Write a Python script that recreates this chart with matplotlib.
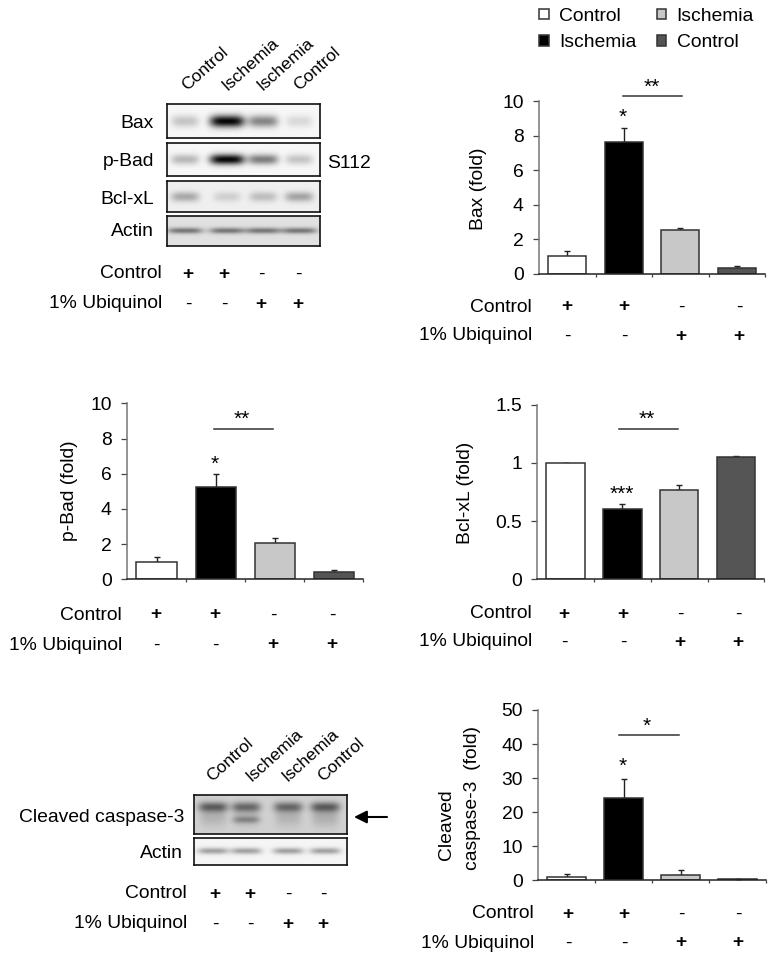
import numpy as np
import matplotlib
matplotlib.use('Agg')
import matplotlib.pyplot as plt
from matplotlib.patches import Patch, FancyArrowPatch

plt.rcParams['font.family'] = ['Liberation Sans', 'DejaVu Sans']
plt.rcParams['font.size'] = 13.9

W, H = 777, 960

# bar chart data
groups = ['Control', 'Ischemia', 'Ischemia', 'Control']
colors = ['white', 'black', '#c8c8c8', '#555555']
row_control = ['+', '+', '-', '-']
row_ubiquinol = ['-', '-', '+', '+']

bax_vals = [1.0, 7.65, 2.55, 0.33]
bax_errs = [0.33, 0.8, 0.12, 0.1]
bax_ticks = [0, 2, 4, 6, 8, 10]
bax_ticklabels = ['0', '2', '4', '6', '8', '10']

pbad_vals = [1.0, 5.25, 2.05, 0.42]
pbad_errs = [0.25, 0.72, 0.27, 0.1]
pbad_ticks = [0, 2, 4, 6, 8, 10]
pbad_ticklabels = ['0', '2', '4', '6', '8', '10']

bcl_vals = [1.0, 0.605, 0.77, 1.05]
bcl_errs = [0.003, 0.04, 0.04, 0.012]
bcl_ticks = [0, 0.5, 1, 1.5]
bcl_ticklabels = ['0', '0.5', '1', '1.5']

casp_vals = [1.0, 24.3, 1.5, 0.4]
casp_errs = [0.9, 5.4, 1.5, 0.05]
casp_ticks = [0, 10, 20, 30, 40, 50]
casp_ticklabels = ['0', '10', '20', '30', '40', '50']

# band darkness per lane on the blots
blot_bax = [0.2, 0.95, 0.45, 0.12]
blot_pbad = [0.25, 0.95, 0.48, 0.2]
blot_bcl = [0.28, 0.13, 0.2, 0.3]
blot_actin = [0.42, 0.42, 0.42, 0.42]
blot_casp_upper = [0.42, 0.38, 0.38, 0.42]
blot_casp_cleaved = [0.0, 0.22, 0.0, 0.0]
blot_casp_smear = [0.12, 0.1, 0.12, 0.14]
blot_actin2 = [0.33, 0.33, 0.33, 0.33]

fig = plt.figure(figsize=(W / 100, H / 100), dpi=100)


def add_axes_px(x0, y0, x1, y1):
    # y0 is the top edge in picture pixels
    return fig.add_axes([x0 / W, 1 - y1 / H, (x1 - x0) / W, (y1 - y0) / H])


def txt(x, y, s, ha='center', va='center', **kw):
    return fig.text(x / W, 1 - y / H, s, ha=ha, va=va, **kw)


def sign_rows(right, y1, y2, xs):
    # va center sits a little high for this font
    y1 += 2
    y2 += 2
    txt(right, y1, 'Control', ha='right')
    txt(right, y2, '1% Ubiquinol', ha='right')
    for x, a, b in zip(xs, row_control, row_ubiquinol):
        txt(x, y1, a, fontweight='bold' if a == '+' else 'normal')
        txt(x, y2, b, fontweight='bold' if b == '+' else 'normal')


def bar_chart(rect, vals, errs, ticks, ticklabels):
    ax = add_axes_px(*rect)
    x = np.arange(4)
    ax.bar(x, vals, width=0.68, color=colors, edgecolor='#333333', linewidth=1.1, zorder=2)
    ax.errorbar(x, vals, yerr=[[0] * 4, errs], fmt='none', ecolor='#222222',
                elinewidth=1.0, capsize=2.5, capthick=1.0, zorder=1)
    ax.set_xlim(-0.5, 3.5)
    ax.set_ylim(ticks[0], ticks[-1])
    ax.set_yticks(ticks)
    ax.set_yticklabels(ticklabels)
    ax.set_xticks([0.5, 1.5, 2.5, 3.5])
    ax.set_xticklabels([])
    ax.tick_params(axis='y', length=4, width=0.9, color='#444444', pad=7)
    ax.tick_params(axis='x', length=2.5, width=0.9, color='#444444')
    ax.spines['top'].set_visible(False)
    ax.spines['right'].set_visible(False)
    ax.spines['left'].set_color('#777777')
    ax.spines['left'].set_linewidth(1.1)
    ax.spines['bottom'].set_color('#222222')
    ax.spines['bottom'].set_linewidth(1.1)
    ax.patch.set_alpha(0)
    return ax


def sig_line(x0, x1, y):
    fig.add_artist(plt.Line2D([x0 / W, x1 / W], [1 - y / H, 1 - y / H], color='#333333', lw=1.1))


def star(x, y, s):
    # Arial's asterisk sits high in the line, so shift the anchor down
    txt(x, y + 5, s, fontsize=15)


def blot(rect, lanes, rows, bg, band_w=16):
    # rows: (darkness per lane, y fraction, band half height in px)
    x0, y0, x1, y1 = rect
    ax = add_axes_px(*rect)
    xx, yy = np.meshgrid(np.arange(x0, x1, 0.5), np.arange(y0, y1, 0.5))
    img = np.full(xx.shape, bg, dtype=float)
    for dark, frac, sig in rows:
        yc = y0 + frac * (y1 - y0)
        for c, d in zip(lanes, dark):
            w = band_w * (0.8 + 0.3 * d)
            img -= d * np.exp(-((xx - c) / w) ** 4) * np.exp(-((yy - yc) / sig) ** 2)
    ax.imshow(np.clip(img, 0, 1), cmap='gray', vmin=0, vmax=1, aspect='auto',
              extent=[x0, x1, y1, y0], interpolation='bilinear')
    ax.set_xticks([])
    ax.set_yticks([])
    for s in ax.spines.values():
        s.set_linewidth(1.2)
        s.set_color('#111111')
    return ax


# top left blot
lanes1 = [185, 227, 263, 299]
blot((167, 104, 320, 138), lanes1, [(blot_bax, 0.5, 6)], 0.97)
blot((167, 143, 320, 176), lanes1, [(blot_pbad, 0.49, 5.2)], 0.97)
blot((167, 181, 320, 212), lanes1, [(blot_bcl, 0.5, 5)], 0.94)
blot((167, 216, 320, 246), lanes1, [(blot_actin, 0.48, 3)], 0.88, band_w=19)
for y, s in zip([124, 161, 200, 232], ['Bax', 'p-Bad', 'Bcl-xL', 'Actin']):
    txt(154, y, s, ha='right')
txt(327, 163, 'S112', ha='left')
for x, s in zip([187, 227, 262, 299], groups):
    txt(x, 91, s, ha='left', va='baseline', rotation=42, rotation_mode='anchor', fontsize=12.6)
sign_rows(162, 272, 302, [188, 224, 261, 298])

# lower left blot
lanes2 = [213, 246, 288, 325]
blot((194, 795, 347, 834), lanes2,
     [(blot_casp_upper, 0.3, 5), (blot_casp_cleaved, 0.63, 3.5), (blot_casp_smear, 0.55, 10)], 0.82)
blot((194, 838, 347, 865), lanes2, [(blot_actin2, 0.47, 3.2)], 0.96, band_w=17)
txt(184, 818, 'Cleaved caspase-3', ha='right')
txt(183, 854, 'Actin', ha='right')
fig.add_artist(FancyArrowPatch((387 / W, 1 - 817 / H), (354 / W, 1 - 817 / H),
                               transform=fig.transFigure, arrowstyle='-|>', mutation_scale=19,
                               color='black', lw=1.5, shrinkA=0, shrinkB=0))
for x, s in zip([212, 251, 287, 323], groups):
    txt(x, 782, s, ha='left', va='baseline', rotation=42, rotation_mode='anchor', fontsize=12.6)
sign_rows(187, 892, 922, [215, 250, 288, 323])

# Bax
ax_bax = bar_chart((539, 101, 765, 273.7), bax_vals, bax_errs, bax_ticks, bax_ticklabels)
txt(479, 189, 'Bax (fold)', rotation=90)
sig_line(623, 682, 95.7)
star(652, 82, '**')
star(623, 112, '*')
sign_rows(532, 305, 334, [567, 624, 681, 739])

# legend uses the same order as the bars
handles = [Patch(facecolor=c, edgecolor='#333333', linewidth=1.1) for c in colors]
fig.legend(handles, groups, ncol=2, frameon=False, loc='upper left',
           bbox_to_anchor=(537.5 / W, 1 - 6 / H), handlelength=0.48, handleheight=0.48,
           handletextpad=0.55, columnspacing=1.04, labelspacing=0.49, borderpad=0.1,
           borderaxespad=0)

# p-Bad
bar_chart((127, 403.3, 363.3, 579.3), pbad_vals, pbad_errs, pbad_ticks, pbad_ticklabels)
txt(70, 491, 'p-Bad (fold)', rotation=90)
sig_line(214, 273, 428.7)
star(242, 414, '**')
star(215, 459, '*')
sign_rows(122, 613, 643, [156, 215, 273, 332])

# Bcl-xL
bar_chart((537.3, 404.7, 764.3, 579.3), bcl_vals, bcl_errs, bcl_ticks, bcl_ticklabels)
txt(466, 493, 'Bcl-xL (fold)', rotation=90)
sig_line(619, 678, 428.7)
star(647, 414, '**')
star(622, 489, '***')
sign_rows(532, 612, 640, [564, 623, 680, 738])

# Cleaved caspase-3
bar_chart((538.3, 710, 766, 880.3), casp_vals, casp_errs, casp_ticks, casp_ticklabels)
txt(447, 825, 'Cleaved', rotation=90)
txt(472, 798, 'caspase-3  (fold)', rotation=90)
sig_line(619, 679, 735)
star(647, 721, '*')
star(623, 761, '*')
sign_rows(534, 912, 941, [568, 624, 681, 738])

fig.savefig('out.png', dpi=100)
